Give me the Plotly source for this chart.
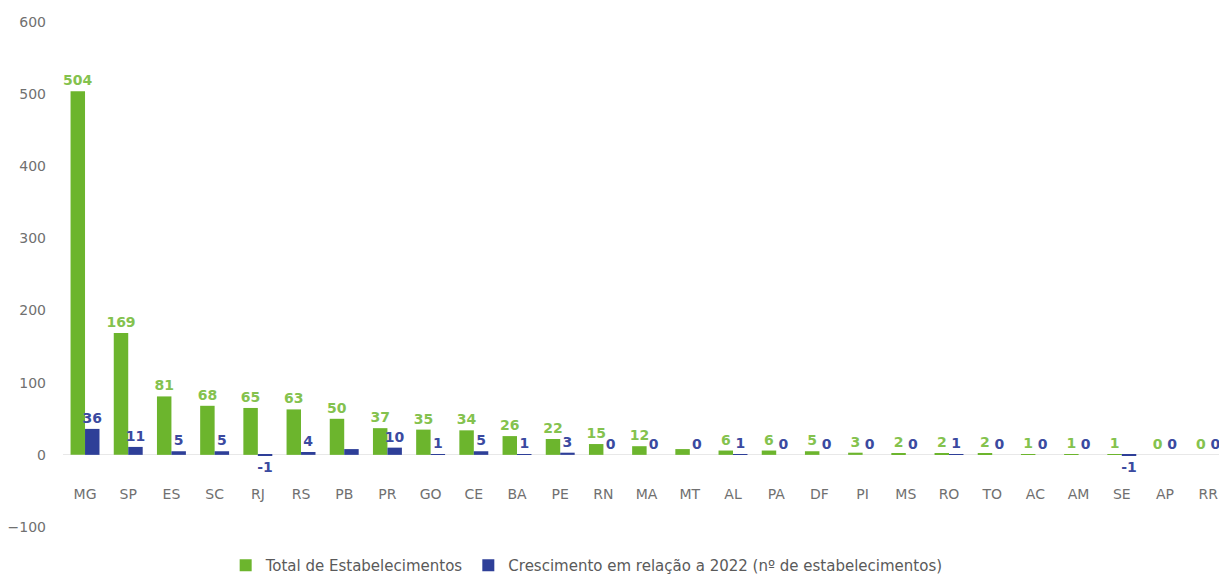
import plotly.graph_objects as go

states = ["MG", "SP", "ES", "SC", "RJ", "RS", "PB", "PR", "GO", "CE", "BA", "PE", "RN", "MA",
          "MT", "AL", "PA", "DF", "PI", "MS", "RO", "TO", "AC", "AM", "SE", "AP", "RR"]
total = [504, 169, 81, 68, 65, 63, 50, 37, 35, 34, 26, 22, 15, 12,
         8, 6, 6, 5, 3, 2, 2, 2, 1, 1, 1, 0, 0]
crescimento = [36, 11, 5, 5, -1, 4, 8, 10, 1, 5, 1, 3, 0, 0,
               0, 1, 0, 0, 0, 0, 1, 0, 0, 0, -1, 0, 0]
# labels as printed in the source (some bars carry no label)
total_labels = [str(v) for v in total]
total_labels[states.index("MT")] = ""
cresc_labels = [str(v) for v in crescimento]
cresc_labels[states.index("PB")] = ""
y_ticks = [-100, 0, 100, 200, 300, 400, 500, 600]

FONT = "DejaVu Sans"
GREEN = "#6cb52d"
GREEN_TXT = "#84c24e"
BLUE = "#2e3f98"
BLUE_TXT = "#3b4aa0"

fig = go.Figure()
fig.add_trace(go.Bar(
    x=states, y=total, name="Total de Estabelecimentos",
    marker=dict(color=GREEN, line=dict(width=0)),
    text=total_labels, textposition="outside", cliponaxis=False, constraintext="none",
    textfont=dict(family=FONT, size=14, color=GREEN_TXT, weight="bold"),
))
fig.add_trace(go.Bar(
    x=states, y=crescimento, name="Crescimento em relação a 2022 (nº de estabelecimentos)",
    marker=dict(color=BLUE, line=dict(width=0)),
    text=cresc_labels, textposition="outside", cliponaxis=False, constraintext="none",
    textfont=dict(family=FONT, size=14, color=BLUE_TXT, weight="bold"),
))

fig.update_layout(
    width=1219, height=582,
    margin=dict(l=63, r=0, t=22, b=55, autoexpand=False),
    paper_bgcolor="white", plot_bgcolor="white",
    barmode="group", bargap=0.33, bargroupgap=0,
    font=dict(family=FONT, size=13, color="#707070"),
    showlegend=True,
    legend=dict(orientation="h", x=0.453, xanchor="center",
                yref="container", y=-0.012, yanchor="bottom",
                font=dict(family=FONT, size=15, color="#5a5a5a"),
                itemwidth=30, traceorder="normal"),
    xaxis=dict(range=[-0.51, 26.25], anchor="free", position=0.085,
               showline=False, showgrid=False, zeroline=False, ticks="",
               automargin=False,
               tickfont=dict(family=FONT, size=14, color="#707070")),
    yaxis=dict(range=[-100, 600], tickvals=y_ticks, showgrid=False,
               zeroline=True, zerolinecolor="#e8e8e8", zerolinewidth=1,
               showline=False, ticks="", ticklabelstandoff=16, automargin=False,
               tickfont=dict(family=FONT, size=14, color="#707070")),
)

fig.write_html("out.html")
